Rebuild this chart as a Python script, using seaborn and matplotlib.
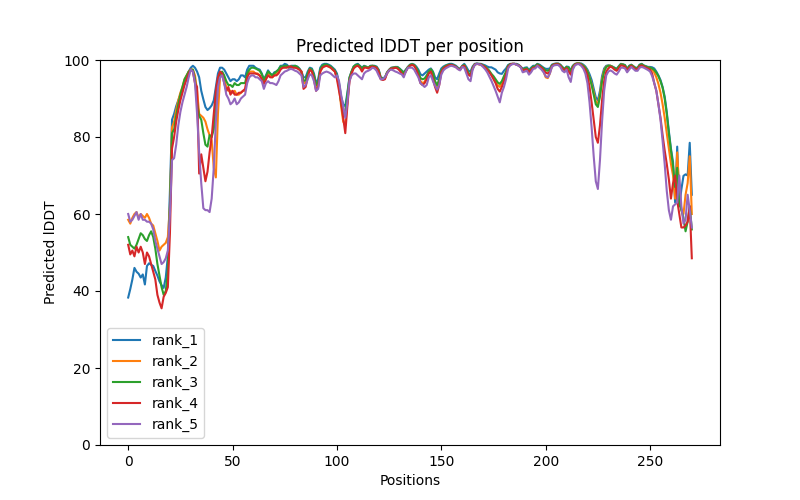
import numpy as np
import pandas as pd
import matplotlib
matplotlib.use("Agg")
import matplotlib.pyplot as plt
import seaborn as sns

# per-residue predicted lDDT (positions 0..270)
rank_1 = [
    38.3, 40.5, 43, 46, 45, 44.5, 43.5, 44.3, 41.7, 46.5,
    47.2, 46.8, 46.5, 45.2, 44, 42.5, 41.5, 40.8, 43.5, 49,
    66, 84.5, 86, 88, 89.5, 91, 92.5, 94, 95.5, 97,
    98, 98.5, 98, 97, 95.5, 92, 89.8, 87.8, 87, 87.5,
    88.2, 89.5, 93, 96.5, 98, 98, 97.5, 96.5, 95.5, 94.5,
    95, 95, 94.5, 95, 96, 96, 95.5, 97.5, 98.5, 98.5,
    98.5, 98, 97.7, 97.5, 96.5, 95, 96, 97.3, 96.5, 96,
    96.8, 97, 97.5, 98.5, 98.5, 99, 98.8, 98.2, 98.5, 98.5,
    98.5, 98.3, 97.8, 97, 95.5, 95.5, 97, 98, 97.8, 96.5,
    94, 95, 98, 98.8, 99, 99, 98.8, 98.5, 98, 97.5,
    96.5, 94, 90.5, 88.5, 88, 91.5, 95.5, 97, 98.3, 98.8,
    99, 98.5, 98, 98.5, 98.3, 98, 98.5, 98.5, 98.5, 98.3,
    97.5, 95.5, 95.3, 95.5, 96.8, 97.5, 98, 98.1, 98.2, 98.2,
    97.8, 97.3, 96.8, 97.5, 98.2, 98.8, 99, 98.8, 98.3, 97.5,
    96.3, 96, 96.5, 97, 97.5, 97.8, 97, 95.5, 95, 96.5,
    97.8, 98.3, 98.6, 98.8, 99, 99, 98.8, 98.5, 98, 97.7,
    98.5, 99, 98.2, 97.2, 97, 98.3, 99, 99.1, 99, 99,
    98.8, 98.6, 98.3, 98.1, 98.1, 97.8, 97.5, 96.8, 96.5, 96.4,
    97.2, 97.8, 98.7, 99, 99, 99, 99, 98.8, 98.3, 97.7,
    98, 98.1, 97.4, 98, 98.5, 98.5, 99, 98.8, 98.4, 98,
    97.7, 97.7, 97.8, 98.8, 99, 99.1, 99.1, 98.8, 98.2, 97.7,
    98.3, 98.2, 97.3, 98.5, 99, 99.1, 99.1, 99.1, 98.8, 98.3,
    97.5, 96.3, 94.8, 92.5, 90.3, 89.5, 92, 95.8, 97.8, 98.5,
    98.6, 98.5, 98.3, 98, 97.7, 98.4, 99, 98.9, 98.7, 97.7,
    98.5, 98.8, 98.4, 98, 98, 98.8, 99, 98.6, 98.4, 98.2,
    98.2, 98.1, 97.8, 97, 96, 94.8, 93, 90.5, 86.5, 81.5,
    77, 73.5, 63, 77.5, 62, 66.4, 69.9, 70.3, 70, 78.5, 65,
]
rank_2 = [
    58.5, 57.5, 59, 60, 60.5, 59, 60, 59.5, 59, 60,
    59, 57.5, 57, 55, 53, 50.5, 51.5, 52, 52.5, 54,
    62, 82.5, 84, 87, 89.5, 91.5, 93, 95, 96, 97,
    97.5, 97.5, 96, 92, 86, 85.5, 85, 84, 82, 80.5,
    79, 72, 69.5, 86, 95.5, 96.5, 95, 93, 92, 92,
    91.5, 92, 91, 91, 91.5, 92, 92, 95.5, 97, 97,
    97, 96.5, 96.5, 96, 95, 94, 95, 96.5, 96, 95.5,
    96, 96.5, 97, 98, 98, 98.3, 98.3, 98, 98.3, 98,
    98.3, 98, 97.5, 97, 94, 94, 96, 97.5, 97.3, 95.5,
    93, 93.5, 97, 98, 98.5, 98.5, 98.3, 98, 97.5, 97,
    95.5, 93, 88, 84, 83, 89, 95, 96.8, 98, 98.5,
    98.7, 98.2, 97.5, 98.2, 98.2, 98, 98.3, 98.5, 98.3, 98,
    97.2, 95.2, 95, 95.3, 96.7, 97.4, 97.9, 98, 98, 98,
    97.5, 97, 96.3, 97.2, 98.1, 98.6, 98.8, 98.6, 97.8, 96.5,
    94.5, 94, 94.3, 95.5, 96.8, 97.5, 96.5, 94, 93, 94.5,
    97, 97.9, 98.3, 98.6, 98.7, 98.7, 98.5, 98.2, 97.7, 97.5,
    98.3, 98.6, 97.5, 96.4, 96, 97.9, 98.8, 99, 98.9, 98.8,
    98.5, 98.2, 97.6, 97, 96.2, 95.4, 94.5, 93.5, 93, 94,
    95.3, 96.7, 98.3, 98.8, 99, 99, 98.8, 98.6, 98.2, 97.4,
    97.6, 97.7, 96.9, 97.5, 98.1, 98.2, 98.8, 98.5, 98, 97,
    95.5, 95.3, 96.5, 98.5, 98.9, 99, 99, 98.6, 98, 97.5,
    98.1, 97.6, 96.8, 98.3, 98.9, 99.1, 99.1, 98.9, 98.5, 98,
    97, 95.5, 93.8, 91.5, 89.3, 88.5, 91, 95, 97.3, 98.3,
    98.5, 98.5, 98.2, 97.8, 97.5, 98.2, 98.8, 98.8, 98.5, 97.5,
    98.3, 98.7, 98.3, 97.8, 97.8, 98.6, 98.8, 98.5, 98.2, 98,
    98, 97.5, 96.8, 95.5, 93.8, 91.5, 88.5, 85, 81, 77,
    73, 70, 64, 76, 66, 61, 60, 65, 68, 75, 60,
]
rank_3 = [
    54, 52, 51.5, 51, 52, 53.5, 55, 54.5, 53.5, 53,
    54.5, 55.5, 54, 51, 47, 44, 41, 39, 40, 45,
    62, 81, 82, 85.5, 88.5, 91, 93, 95, 96, 97,
    97.5, 97.5, 95, 89, 85.5, 84.5, 81, 78, 77.5, 80.5,
    80, 82, 88, 94, 96.5, 97, 96, 94.5, 93.5, 93.5,
    93, 94, 93.5, 93.5, 94, 94, 94, 96.5, 97.5, 98,
    98, 97.8, 97.5, 97.2, 96.3, 94.8, 95.8, 97, 96.5, 96,
    96.5, 97, 97.5, 98.3, 98.3, 98.5, 98.5, 98, 98.3, 98.3,
    98.5, 98.2, 97.7, 96.8, 94.5, 94.8, 96.5, 97.8, 97.5, 96,
    93.5, 94.3, 97.5, 98.5, 98.8, 98.8, 98.6, 98.3, 97.8, 97.2,
    96, 93.5, 89, 86, 86.5, 91, 95.3, 97, 98.3, 98.7,
    98.8, 98.4, 97.8, 98.4, 98.2, 98, 98.4, 98.5, 98.4, 98.1,
    97.3, 95.3, 95.1, 95.4, 96.7, 97.4, 97.9, 98, 98.1, 98.1,
    97.7, 97.2, 96.6, 97.4, 98.2, 98.7, 98.9, 98.7, 98, 97,
    95.3, 95, 95.2, 96, 97, 97.6, 96.8, 94.5, 93.5, 95,
    97.3, 98, 98.4, 98.7, 98.8, 98.8, 98.6, 98.3, 97.8, 97.6,
    98.4, 98.7, 97.7, 96.6, 96.3, 98, 98.9, 99, 99, 98.9,
    98.6, 98.3, 97.8, 97.2, 96.4, 95.8, 95, 94.2, 93.8, 94.5,
    95.8, 97, 98.5, 98.9, 99, 99, 98.9, 98.6, 98.2, 97.5,
    97.8, 97.9, 97.1, 97.7, 98.3, 98.3, 98.9, 98.6, 98.2, 97.8,
    97.3, 97.2, 97.5, 98.6, 98.9, 99, 99, 98.7, 98.1, 97.6,
    98.2, 98, 97.1, 98.4, 98.9, 99.1, 99.1, 98.9, 98.5, 98,
    97, 95.5, 93.5, 91, 88.5, 87.8, 90.5, 94.5, 97, 98.2,
    98.5, 98.5, 98.2, 97.9, 97.6, 98.3, 98.9, 98.8, 98.6, 97.6,
    98.4, 98.7, 98.3, 97.9, 97.9, 98.7, 98.9, 98.5, 98.3, 98.1,
    98, 97.8, 97.4, 96.7, 95.8, 94.5, 92.8, 90, 86, 81,
    76.5, 72.5, 67, 72, 63, 61, 59, 55.5, 58, 62, 56,
]
rank_4 = [
    52, 49.5, 50.5, 49, 51.5, 50, 51.5, 50, 47, 50,
    49, 47, 45, 43, 39, 37, 35.5, 38.5, 39.5, 41,
    55, 77, 80, 84, 87, 89.5, 91.5, 93.5, 95, 96.5,
    97.5, 97, 94, 93, 70.5, 75.5, 72, 68.5, 71, 76,
    80, 86, 92, 95.5, 97, 96.5, 94, 92, 93, 91,
    92, 91, 91, 91.5, 91.5, 92, 92.5, 95.5, 96.5, 96.5,
    96.5, 96.5, 96.3, 96, 95, 93.8, 95, 96, 95.5, 95.5,
    96, 96, 96.5, 97.5, 98, 98, 98, 98.3, 98.3, 98,
    98, 97.8, 97.5, 97, 92.5, 93, 95.5, 97.5, 97, 95,
    92, 93, 97, 98, 98.3, 98.5, 98.3, 98, 97.5, 97,
    95, 92, 89, 85, 81, 88, 94.5, 96.5, 97.8, 98.3,
    98.5, 98, 97, 98, 98, 97.8, 98.2, 98.3, 98.2, 98,
    97, 95, 94.8, 95, 96.5, 97.3, 97.8, 97.8, 98, 97.8,
    97.3, 96.5, 96, 97, 98, 98.5, 98.7, 98.5, 97.5, 96,
    94, 93.5, 94, 95, 96.5, 97, 95, 93, 91.5, 93.5,
    96.8, 97.8, 98.2, 98.5, 98.7, 98.7, 98.5, 98.2, 97.7, 97.5,
    98.3, 98.5, 97.3, 96.2, 95.8, 97.8, 98.8, 99, 98.9, 98.8,
    98.5, 98.1, 97.5, 96.8, 96, 95, 94, 92.5, 91.8, 93,
    94.5, 96.2, 98.2, 98.8, 99, 99, 98.8, 98.6, 98.2, 97.3,
    97.5, 97.6, 96.8, 97.4, 98, 98, 98.6, 98.4, 98, 97.4,
    96.7, 96.5, 97, 98.4, 98.8, 98.9, 98.9, 98.5, 97.8, 97.3,
    97.9, 97, 96.2, 98, 98.8, 99, 99, 98.7, 98.2, 97.5,
    96, 93, 89, 84.5, 80, 78.5, 83, 89.5, 94.5, 97,
    97.8, 98.3, 98, 97.5, 97.2, 97.9, 98.6, 98.5, 98.3, 97.3,
    98, 98.5, 98.1, 97.6, 97.6, 98.4, 98.6, 98.3, 98, 97.8,
    97.5, 96.5, 94, 92, 88.5, 85, 80.5, 76.5, 73, 69,
    64, 68, 70, 63.5, 60, 56.5, 56.5, 57, 58, 62, 48.5,
]
rank_5 = [
    60, 58, 58.5, 59.5, 60.5, 58.5, 60, 58.5, 58.5, 58,
    58, 57.5, 56, 53, 51, 49, 47, 47.5, 48.5, 50.5,
    60, 74, 74.5, 78, 83, 86.5, 89, 91, 93, 95.5,
    97.5, 97, 94, 86, 76, 68, 61.5, 61, 61, 60.5,
    64, 72, 84, 93, 95.5, 96, 94, 91, 90, 88.5,
    89, 90, 88.5, 89, 90, 90.5, 91, 94, 95.5, 96,
    96, 95.5, 95.5, 95, 94.5, 92.5, 94, 94.5, 94, 94,
    93.8, 93.5, 94.5, 96, 96.5, 97, 97.2, 97.5, 97.7, 97.5,
    97.2, 97, 96.5, 96, 93, 93.5, 95, 96.3, 96, 94.5,
    92, 92.5, 96, 96.5, 96.8, 97, 96.8, 96.5, 96, 95.5,
    96, 94.5, 91, 88, 85, 89, 94.5, 96, 96.5, 96.5,
    96, 95.5, 95, 96.5, 97, 97.2, 97.5, 98, 97.8, 97.2,
    96, 95, 95, 95.5, 96.5, 97.3, 97.5, 97.3, 97, 96.8,
    96.5, 96.3, 95.5, 97, 98, 98, 98, 97.5, 96.5, 95.5,
    94, 93.5, 93, 93.5, 95.5, 96, 94.5, 93.3, 92.3, 93.5,
    96.2, 97.3, 97.8, 98.1, 98.4, 98.5, 98.3, 98.1, 97.6, 97.3,
    98.2, 98, 96.5, 95, 94.5, 97.5, 98.7, 99, 98.9, 98.7,
    98.2, 97.6, 96.8, 95.7, 94.6, 93.3, 92, 90.5, 89, 91.5,
    93, 95, 97.8, 98.6, 98.9, 99, 98.8, 98.5, 98.1, 96.8,
    97, 97.2, 96.2, 96.8, 97.7, 97.8, 98.5, 98, 97.5, 96.8,
    95.8, 95.5, 96.5, 98.2, 98.6, 98.7, 98.7, 98.2, 97.2, 96.8,
    97.5, 95.5, 94.3, 97.5, 98.6, 98.9, 98.9, 98.5, 97.8, 96.5,
    94, 89, 82.5, 75, 68.5, 66.5, 74, 84, 92, 96,
    97, 97.3, 97, 96.5, 96.2, 97, 98, 98, 97.8, 96.8,
    97.5, 98.2, 97.7, 97.2, 97.2, 98, 98.2, 98, 97.7, 97.4,
    97, 95.8, 94, 92, 88.5, 84.5, 79, 73, 66, 61,
    58.5, 62, 62.5, 63, 70, 62, 57.5, 58.5, 65, 61, 56.5,
]

rank_names = ["rank_1", "rank_2", "rank_3", "rank_4", "rank_5"]
rank_values = [rank_1, rank_2, rank_3, rank_4, rank_5]

colors = sns.color_palette("tab10", 5)

plt.figure(figsize=(8, 5), dpi=100)
ax = plt.gca()
for name, vals, c in zip(rank_names, rank_values, colors):
    df = pd.DataFrame({"pos": np.arange(len(vals)), "plddt": vals})
    sns.lineplot(data=df, x="pos", y="plddt", color=c, label=name, ax=ax)

ax.set_ylim(0, 100)
ax.set_title("Predicted lDDT per position")
ax.set_xlabel("Positions")
ax.set_ylabel("Predicted lDDT")
ax.legend(loc="lower left")
plt.savefig("out.png", dpi=100)
